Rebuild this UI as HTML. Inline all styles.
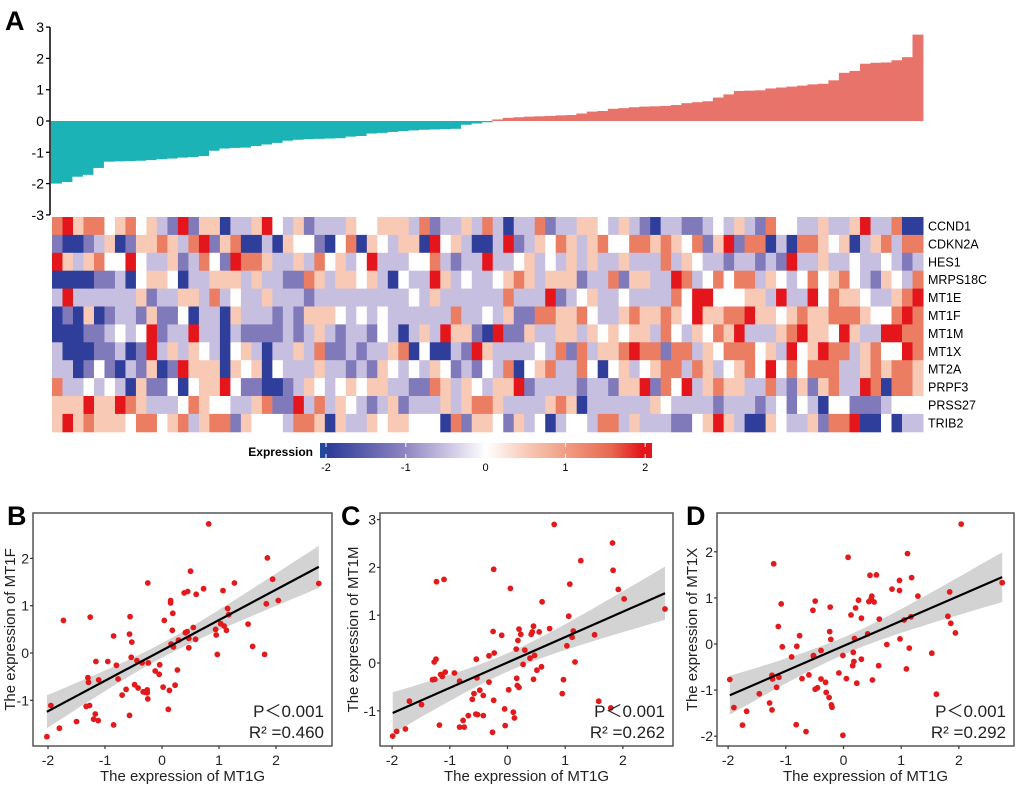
<!DOCTYPE html>
<html><head><meta charset="utf-8">
<style>
html,body{margin:0;padding:0;background:#fff;}
svg{display:block;font-family:"Liberation Sans",Arial,sans-serif;}
</style></head>
<body>
<svg id="fig" width="1020" height="788" viewBox="0 0 1020 788" xmlns="http://www.w3.org/2000/svg">
<defs>
<linearGradient id="cbar" x1="0" x2="1" y1="0" y2="0">
<stop offset="0" stop-color="#1d4aa0"/><stop offset="0.03" stop-color="#2f3e9a"/>
<stop offset="0.25" stop-color="#8c82c0"/><stop offset="0.375" stop-color="#c7bfe0"/>
<stop offset="0.5" stop-color="#ffffff"/><stop offset="0.625" stop-color="#f8c9b5"/>
<stop offset="0.75" stop-color="#f09a80"/><stop offset="0.875" stop-color="#e8694f"/>
<stop offset="0.97" stop-color="#e4151b"/><stop offset="1" stop-color="#e4151b"/>
</linearGradient>
</defs>
<text x="5" y="30" font-size="27" font-weight="bold">A</text>
<text x="7" y="525" font-size="27" font-weight="bold">B</text>
<text x="341" y="525" font-size="27" font-weight="bold">C</text>
<text x="686" y="525" font-size="27" font-weight="bold">D</text>
<g id="bars"></g>
<g id="heat"></g>
<g>
<text x="313" y="456" font-size="12" font-weight="bold" text-anchor="end">Expression</text>
<rect x="320" y="443" width="332" height="15" fill="url(#cbar)"/>
<g id="cbticks" font-size="11"></g>
</g>
<g id="scB"></g><g id="scC"></g><g id="scD"></g>
</svg>
<script>
const NS="http://www.w3.org/2000/svg";
function mk(parent,tag,attrs,text){const e=document.createElementNS(NS,tag);for(const k in attrs)e.setAttribute(k,attrs[k]);if(text!==undefined)e.textContent=text;parent.appendChild(e);return e;}

// ---- Panel A data ----
const barValues=[-2.0,-1.95,-1.78,-1.72,-1.5,-1.3,-1.29,-1.28,-1.27,-1.25,-1.22,-1.2,-1.17,-1.15,-1.12,-0.95,-0.88,-0.86,-0.85,-0.8,-0.75,-0.7,-0.63,-0.6,-0.58,-0.57,-0.56,-0.55,-0.5,-0.48,-0.4,-0.38,-0.35,-0.32,-0.3,-0.28,-0.27,-0.26,-0.25,-0.12,-0.08,-0.04,
0.05,0.1,0.12,0.14,0.15,0.16,0.18,0.19,0.24,0.3,0.32,0.39,0.41,0.44,0.46,0.47,0.48,0.51,0.57,0.6,0.63,0.75,0.85,0.96,0.97,0.98,1.04,1.07,1.1,1.13,1.17,1.19,1.3,1.54,1.6,1.83,1.86,1.87,1.94,2.04,2.76];
const barTicks=[-3,-2,-1,0,1,2,3];
const genes=["CCND1","CDKN2A","HES1","MRPS18C","MT1E","MT1F","MT1M","MT1X","MT2A","PRPF3","PRSS27","TRIB2"];
const heatRows=[
"rRprrwprwplbRbppBllpRwlpblllpwwppplrbllplr"+"lBllrbllppwlplbBllbblwlplbrwwllpllpRllrBBl",
"bBBblpBbpprplrRbprBBlBpwwbBwrBpwlppBRwplBB"+"lRblpwrplprwwrrprpwrbpRbrrBlBrrpwpBlprlrrp",
"RplprwwRwllpblrwbRrrpllplrwplwRlllwwrlbllR"+"llwplwlplpllplllrlpwllbllblbRllpllwllwlbl",
"BBBBbblBwppwBllppplpllbbrplppwplBwllRplwll"+"wprplpppbllrbppllRrlwrwrrlpwlwrwprwlbpwlrR",
"lRllllllpbllpplrlwllplllblllllllllwlpllllll"+"rlllRblwpllwllllrwRRwwwpplRllRwrppwllprRll",
"BbBpBbllbpbbwBllBplllblbpppwlwlwllllllrllwl"+"pbbrrpprwllprpprpwRpprrRppwprpprrrpwwrRrrr",
"BBBbblwlwRbllRllBlbbbblblplbllbwlBlplRppbB"+"RbbpllpplpwpwpplrwlpwrpRlllprRppwRpllRRrrr",
"lBBBbblBbRlplpwlBwplBllplrbblbllprBwBBlb"+"RpllllwlrbrlpprRrrbrrlpwrrrwplRwpRrrlprwwRr",
"llBbwbBlbpBbRpppBpwpBwlllpllblbpwlwlpwblbwl"+"rBwprllrwBwplwprrlrplwprwRwrwrrrllprprrpr",
"rllwlwlBpbbwBwppRwbbBBblpwlwpwppllbbrplpwl"+"ppRbllllbllbppRbrwRlprppllrlbpbprllRrBrrp",
"pppRppRrplllwrpwwllprbbRlrlpwlblpblllplprr"+"pllllprpBllllllpwllllblllblwbwlBwwbbblwww",
"pRprpppwrrwprlprrbpwwwlrrpBpllpwppwwwBrbpp"+"wbplwBlwwlrrlplllbbwpRplBBpwllpbrrRBBwBll"
];
const cmap={R:2,r:1.3,p:0.5,w:0,l:-0.5,b:-1.1,B:-1.8};
const cbTicks=[-2,-1,0,1,2];

function heatColor(v){
  const stops=[[-2,[29,74,160]],[-1.8,[47,62,154]],[-1,[140,130,192]],[-0.5,[199,191,224]],[0,[255,255,255]],[0.5,[248,201,181]],[1,[240,154,128]],[1.5,[232,105,79]],[2,[228,21,27]]];
  v=Math.max(-2,Math.min(2,v));
  for(let i=0;i<stops.length-1;i++){const a=stops[i],b=stops[i+1];if(v<=b[0]){const t=(v-a[0])/(b[0]-a[0]);const c=a[1].map((x,j)=>Math.round(x+(b[1][j]-x)*t));return "rgb("+c.join(",")+")";}}
  return "rgb(228,21,27)";
}

// bar chart
(function(){
  const g=document.getElementById("bars");
  const X0=51,X1=923,yZero=121,ppu=31.3;
  const y=v=>yZero-v*ppu;
  const w=(X1-X0)/barValues.length;
  barValues.forEach((v,i)=>{
    const r=mk(g,"rect",{x:(X0+i*w).toFixed(2),y:Math.min(y(v),y(0)).toFixed(2),width:(w+0.4).toFixed(2),height:Math.abs(y(v)-y(0)).toFixed(2),fill:v<0?"#1bb3b6":"#e8736b"});
    
    
  });
  const ax=mk(g,"line",{x1:50,x2:50,y1:y(3),y2:y(-3),stroke:"#000","stroke-width":1.5});
  
  
  barTicks.forEach(t=>{
    mk(g,"line",{x1:46,x2:50,y1:y(t),y2:y(t),stroke:"#000","stroke-width":1.3});
    const tl=mk(g,"text",{x:44,y:y(t)+5,"font-size":14,"text-anchor":"end"},String(t));
    
    
  });
})();

// heatmap
(function(){
  const g=document.getElementById("heat");
  const X0=52,X1=923,Y0=217,rh=17.9;
  const n=barValues.length,w=(X1-X0)/n;
  heatRows.forEach((row,ri)=>{
    for(let ci=0;ci<n;ci++){
      const ch=row[Math.min(ci,row.length-1)];
      const c=mk(g,"rect",{x:(X0+ci*w).toFixed(2),y:(Y0+ri*rh).toFixed(2),width:(w+0.5).toFixed(2),height:(rh+0.5).toFixed(2),fill:heatColor(cmap[ch])});
      
      
    }
    const t=mk(g,"text",{x:928,y:Y0+ri*rh+13.5,"font-size":12.5},genes[ri]);
    
    
  });
  const tg=document.getElementById("cbticks");
  cbTicks.forEach(t=>{
    const x=326+(t+2)*79.8;
    mk(tg,"line",{x1:x,x2:x,y1:443,y2:447,stroke:"#fff","stroke-width":1});
    mk(tg,"line",{x1:x,x2:x,y1:454,y2:458,stroke:"#fff","stroke-width":1});
    const l=mk(tg,"text",{x:x,y:471,"text-anchor":"middle","font-size":11},String(t));
    
    
  });
})();

// ---- Scatter data ----
const bX=[-2.02,-1.95,-1.80,-1.73,-1.50,-1.30,-1.29,-1.33,-1.27,-1.26,-1.20,-1.17,-1.16,-1.12,-1.11,-0.95,-0.85,-0.85,-0.80,-0.77,-0.70,-0.63,-0.57,-0.56,-0.57,-0.53,-0.54,-0.48,-0.44,-0.42,-0.35,-0.33,-0.29,-0.26,-0.25,-0.24,-0.25,-0.26,-0.12,-0.05,-0.04,0.02,0.04,0.11,0.13,0.15,0.15,0.16,0.18,0.19,0.20,0.23,0.27,0.29,0.39,0.41,0.44,0.45,0.47,0.47,0.50,0.55,0.59,0.60,0.73,0.82,0.94,0.95,0.97,1.03,1.07,1.09,1.13,1.15,1.17,1.27,1.51,1.59,1.80,1.83,1.85,1.94,2.04,2.75];
const bY=[-1.77,-1.11,-1.59,0.69,-1.45,-0.52,-0.62,-1.13,-1.11,0.76,-1.40,-1.29,-0.18,-1.43,-0.57,-0.18,0.36,-1.52,-0.26,-0.55,-0.89,-0.77,0.40,0.77,-1.32,0.23,-0.09,-0.67,-0.16,-0.74,-0.21,-0.82,-0.83,-0.78,1.48,-0.21,-0.97,-0.84,-0.38,-0.45,-0.25,-0.72,0.69,-1.19,-0.79,1.11,1.06,0.19,0.48,0.84,0.13,-0.68,-0.36,0.27,1.27,0.43,0.45,1.30,0.11,0.31,1.73,0.54,0.29,1.24,1.36,2.73,0.50,0.38,-0.03,0.62,1.32,0.57,0.48,0.94,0.81,1.48,0.61,0.14,-0.03,1.04,2.01,1.56,1.11,1.47];
const cX=[-1.99,-1.92,-1.77,-1.70,-1.49,-1.30,-1.27,-1.24,-1.26,-1.23,-1.18,-1.16,-1.13,-1.10,-1.08,-0.92,-0.83,-0.83,-0.77,-0.75,-0.68,-0.61,-0.58,-0.55,-0.54,-0.53,-0.52,-0.48,-0.42,-0.42,-0.32,-0.32,-0.26,-0.25,-0.24,-0.24,-0.23,-0.10,-0.05,-0.04,0.02,0.05,0.10,0.12,0.15,0.16,0.17,0.18,0.20,0.20,0.23,0.27,0.30,0.39,0.41,0.43,0.45,0.45,0.47,0.51,0.55,0.59,0.60,0.73,0.81,0.95,0.97,1.03,1.06,1.08,1.12,1.14,1.17,1.27,1.51,1.58,1.79,1.82,1.83,1.92,2.02,2.73];
const cY=[-1.53,-1.43,-1.38,-0.80,-0.87,-0.35,0.02,0.08,-0.34,1.70,-1.30,-0.24,-0.28,1.75,-0.19,-0.21,-1.34,-0.38,-1.20,-1.34,-1.10,-0.76,-0.64,-1.07,0.08,-0.31,-1.08,-0.57,-1.10,-0.68,-0.40,0.15,-1.45,0.66,1.96,-0.78,0.21,0.58,-0.96,-1.31,-0.56,1.56,-1.03,-1.15,0.29,-0.32,-0.47,0.47,0.71,-0.51,0.60,-0.03,0.27,0.10,0.60,0.65,-0.34,0.77,0.16,-0.15,0.65,-0.08,1.28,0.72,2.90,-0.64,-0.35,0.36,0.98,1.65,0.54,0.67,0.02,2.14,0.59,-0.80,-0.94,2.51,1.94,1.54,1.34,1.13];
const dX=[-1.97,-1.90,-1.68,-1.75,-1.46,-1.28,-1.24,-1.21,-1.24,-1.23,-1.16,-1.13,-1.12,-1.08,-1.06,-0.90,-0.81,-0.76,-0.82,-0.72,-0.65,-0.60,-0.53,-0.52,-0.52,-0.49,-0.49,-0.45,-0.39,-0.39,-0.31,-0.30,-0.25,-0.24,-0.23,-0.22,-0.21,-0.20,-0.08,-0.01,0.05,0.08,0.13,-0.01,0.16,0.17,0.18,0.21,0.19,0.23,0.26,0.31,0.31,0.42,0.44,0.46,0.48,0.49,0.50,0.53,0.57,0.61,0.62,0.75,0.84,0.97,0.97,0.98,1.05,1.09,1.11,1.14,1.17,1.18,1.29,1.53,1.61,1.81,1.84,1.86,1.94,2.04,2.75];
const dY=[-0.77,-1.38,-1.46,-1.76,-1.08,-1.28,-1.43,1.74,-0.68,-0.76,-0.94,0.38,-0.72,0.87,-0.06,-0.28,-0.05,0.18,-1.75,-0.75,-1.90,-0.67,0.73,-0.25,-0.27,0.93,-0.98,-0.95,-0.14,-0.76,-0.83,-1.05,-1.16,0.27,0.80,0.10,-1.32,-1.37,-0.63,-0.25,-0.75,1.88,0.63,-1.98,-0.47,-0.18,-0.38,0.78,0.12,-0.85,0.95,-0.33,0.56,0.22,0.92,1.49,0.98,1.04,-0.78,0.91,1.50,-0.47,0.54,-0.01,1.19,1.16,1.38,0.11,0.52,-0.54,1.96,-0.09,0.59,1.44,1.04,-0.20,-1.09,0.60,1.13,0.45,0.24,2.60,1.33];
const xTicks=[-2,-1,0,1,2];
const bYTicks=[-1,0,1,2];
const cYTicks=[-1,0,1,2,3];
const dYTicks=[-2,-1,0,1,2];

function scatter(id,key,xs,ys,yTicks,yName,stats,geo){
  const g=document.getElementById(id);
  
  
  const sx=v=>geo.x0+v*geo.xu, sy=v=>geo.y0-v*geo.yu;
  const n=xs.length;const mx=xs.reduce((a,b)=>a+b)/n, my=ys.reduce((a,b)=>a+b)/n;
  let sxx=0,sxy=0;for(let i=0;i<n;i++){sxx+=(xs[i]-mx)**2;sxy+=(xs[i]-mx)*(ys[i]-my);}
  const slope=sxy/sxx, icpt=my-slope*mx;
  let sse=0;for(let i=0;i<n;i++){sse+=(ys[i]-icpt-slope*xs[i])**2;}
  const s=Math.sqrt(sse/(n-2));
  const xmin=Math.min(...xs),xmax=Math.max(...xs);
  const up=[],lo=[];
  for(let k=0;k<=40;k++){const x=xmin+(xmax-xmin)*k/40;const f=icpt+slope*x;const se=1.99*s*Math.sqrt(1/n+(x-mx)**2/sxx);up.push(sx(x).toFixed(1)+","+sy(f+se).toFixed(1));lo.unshift(sx(x).toFixed(1)+","+sy(f-se).toFixed(1));}
  const band=mk(g,"polygon",{points:up.concat(lo).join(" "),fill:"#d3d3d3"});
  
  
  xs.forEach((x,i)=>{
    const c=mk(g,"circle",{cx:sx(x).toFixed(1),cy:sy(ys[i]).toFixed(1),r:2.9,fill:"#e31a1c"});
    
    
  });
  const ln=mk(g,"line",{x1:sx(xmin),y1:sy(icpt+slope*xmin),x2:sx(xmax),y2:sy(icpt+slope*xmax),stroke:"#000","stroke-width":2.2});
  
  
  const fr=mk(g,"rect",{x:geo.bx0,y:geo.by0,width:geo.bx1-geo.bx0,height:geo.by1-geo.by0,fill:"none",stroke:"#555","stroke-width":1.5});
  
  
  xTicks.forEach(t=>{
    mk(g,"line",{x1:sx(t),x2:sx(t),y1:geo.by1,y2:geo.by1+3,stroke:"#333","stroke-width":1.2});
    const l=mk(g,"text",{x:sx(t),y:geo.by1+19,"font-size":14,"text-anchor":"middle",fill:"#222"},String(t));
    
    
  });
  yTicks.forEach(t=>{
    mk(g,"line",{x1:geo.bx0-3,x2:geo.bx0,y1:sy(t),y2:sy(t),stroke:"#333","stroke-width":1.2});
    const l=mk(g,"text",{x:geo.bx0-4,y:sy(t)+5,"font-size":14,"text-anchor":"end",fill:"#222"},String(t));
    
    
  });
  const xt=mk(g,"text",{x:(geo.bx0+geo.bx1)/2,y:781,"font-size":15,"text-anchor":"middle",fill:"#222"},"The expression of MT1G");
  
  
  const yx=geo.bx0-geo.yoff, yy=(geo.by0+geo.by1)/2;
  const yt=mk(g,"text",{x:yx,y:yy,"font-size":15,"text-anchor":"middle",fill:"#222",transform:"rotate(-90 "+yx+" "+yy+")"},"The expression of "+yName);
  
  
  const p=mk(g,"text",{x:geo.bx1-8,y:geo.by1-29,"font-size":17,"text-anchor":"end",fill:"#222"},"P\uFF1C0.001");
  
  
  const r=mk(g,"text",{x:geo.bx1-8,y:geo.by1-8,"font-size":17,"text-anchor":"end",fill:"#222"},"R\u00B2 ="+stats);
  
  
}
scatter("scB","b",bX,bY,bYTicks,"MT1F","0.460",{x0:162,xu:57,y0:653,yu:47.3,bx0:33,bx1:332,by0:513,by1:746,yoff:18});
scatter("scC","c",cX,cY,cYTicks,"MT1M","0.262",{x0:507.5,xu:57.7,y0:663,yu:47.8,bx0:380,bx1:673,by0:513,by1:746,yoff:22});
scatter("scD","d",dX,dY,dYTicks,"MT1X","0.292",{x0:843.5,xu:57.7,y0:644,yu:46.1,bx0:717,bx1:1014,by0:513,by1:746,yoff:20});
</script>
</body></html>
